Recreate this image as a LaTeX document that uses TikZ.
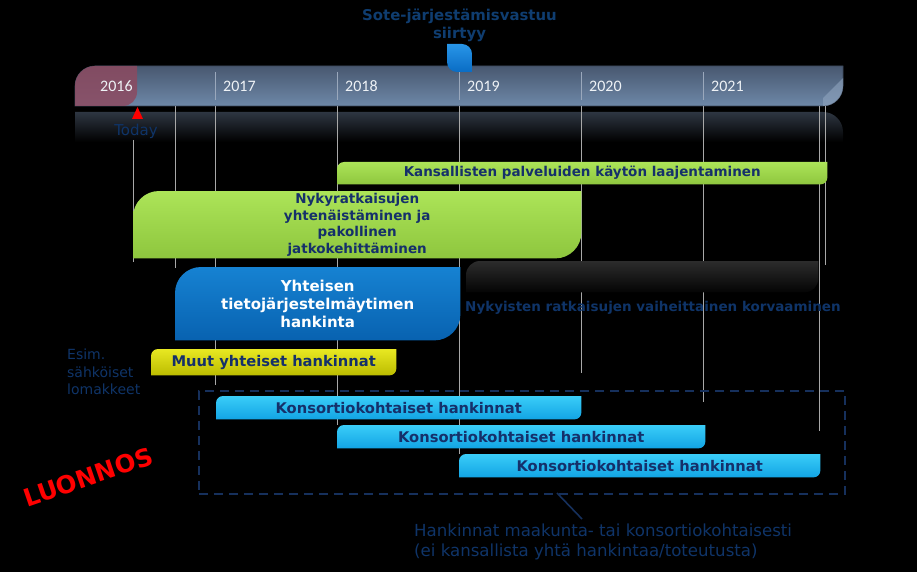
\documentclass[tikz,border=0pt]{standalone}
\usepackage{fontspec}
\setmainfont{DejaVu Sans}
\newfontfamily\yearfont{Carlito}
\usetikzlibrary{calc}
\definecolor{navy}{HTML}{15306A}
\definecolor{navytxt}{HTML}{0F3468}
\definecolor{sotec}{HTML}{0F3D70}
\definecolor{barTop}{HTML}{485870}
\definecolor{barBot}{HTML}{6E88A8}
\definecolor{barEdge}{HTML}{3A4658}
\definecolor{tickc}{HTML}{9AA8BC}
\definecolor{gridc}{HTML}{A8A8A8}
\definecolor{dashc}{HTML}{16305C}
\definecolor{redarea}{HTML}{8C4A60}
\definecolor{reflTop}{HTML}{2E3642}
\definecolor{greenT}{HTML}{ACE458}
\definecolor{greenB}{HTML}{8EC63E}
\definecolor{blueT}{HTML}{1682D2}
\definecolor{blueB}{HTML}{0862B0}
\definecolor{yellowT}{HTML}{E8E822}
\definecolor{yellowB}{HTML}{BCBC00}
\definecolor{cyanT}{HTML}{3ACDF8}
\definecolor{cyanB}{HTML}{12A4E4}
\definecolor{blackT}{HTML}{2C2C2C}
\definecolor{blackB}{HTML}{040404}
\definecolor{markT}{HTML}{2896E8}
\definecolor{markB}{HTML}{0A6CC4}
\definecolor{yearc}{HTML}{EEF2F6}
\definecolor{curlc}{HTML}{8FA4BE}
\pgfdeclarelayer{bgl}
\pgfdeclarelayer{lines}
\pgfdeclarelayer{shapes}
\pgfsetlayers{bgl,lines,shapes,main}
\newcommand\boxfont{\fontsize{13.5}{16.5}\selectfont\bfseries}
\newcommand\boxshape[4]{%
  \begin{pgfonlayer}{shapes}
  \path[top color=#3, bottom color=#4] (#1.south west) -- ([yshift=-#2]#1.north west)
    arc[start angle=180,end angle=90,radius=#2] -- (#1.north east)
    -- ([yshift=#2]#1.south east) arc[start angle=0,end angle=-90,radius=#2] -- cycle;
  \end{pgfonlayer}}
\tikzset{
  barbox/.style={anchor=north west, inner sep=0pt, align=center, text=navy, font=\boxfont},
  yearlbl/.style={anchor=west, inner sep=0pt, text=yearc, font=\yearfont\fontsize{16}{18}\selectfont},
  tickline/.style={draw=tickc, line width=0.8pt},
  gridline/.style={draw=gridc, line width=0.9pt},
  plaintxt/.style={text=navytxt, inner sep=0pt},
}
\begin{document}
\begin{tikzpicture}[x=1pt,y=-1pt]
\begin{pgfonlayer}{bgl}
\fill[black] (0,0) rectangle (917,572);
% timeline bar
\path[top color=barTop,bottom color=barBot,draw=barEdge,line width=0.6pt]
  (75,106) -- (75,86) arc[start angle=180,end angle=90,radius=20pt] -- (843,66)
  -- (843,86) arc[start angle=0,end angle=-90,radius=20pt] -- cycle;
\fill[curlc, fill opacity=0.6] (843,78) -- (843,86) arc[start angle=0,end angle=-90,radius=20pt] -- (823,98) -- cycle;
\fill[redarea, fill opacity=0.85]
  (75,106) -- (75,86) arc[start angle=180,end angle=90,radius=20pt] -- (137,66)
  -- (137,92) arc[start angle=0,end angle=-90,radius=14pt] -- cycle;
% reflection
\path[top color=reflTop, bottom color=black]
  (75,112) -- (823,112) arc[start angle=90,end angle=0,radius=20pt] -- (843,142) -- (75,142) -- cycle;
\foreach \x in {215,337,459,581,703} \draw[tickline] (\x,72) -- (\x,100);
\end{pgfonlayer}
\node[yearlbl] (y2016) at (100,86) {2016};
\node[yearlbl] (y2017) at (223,86) {2017};
\node[yearlbl] (y2018) at (345,86) {2018};
\node[yearlbl] (y2019) at (467,86) {2019};
\node[yearlbl] (y2020) at (589,86) {2020};
\node[yearlbl] (y2021) at (711,86) {2021};
% grid lines
\begin{pgfonlayer}{lines}
\draw[gridline] (133,140) -- (133,262);
\draw[gridline] (175,106) -- (175,268);
\draw[gridline] (215,106) -- (215,385);
\draw[gridline] (337,106) -- (337,425);
\draw[gridline] (459,106) -- (459,454);
\draw[gridline] (581,106) -- (581,373);
\draw[gridline] (703,106) -- (703,402);
\draw[gridline] (819,106) -- (819,431);
\draw[gridline] (825,106) -- (825,265);
\end{pgfonlayer}
% today
\fill[red] (137.5,107) -- (143,119) -- (132,119) -- cycle;
\node[plaintxt, font=\fontsize{15}{18}\selectfont] (today) at (136,131) {Today};
% sote marker
\node[plaintxt, text=sotec, align=center, font=\fontsize{14.9}{17.5}\selectfont\bfseries] (sote) at (459.5,25.5) {Sote-järjestämisvastuu\\siirtyy};
\path[top color=markT, bottom color=markB]
  (447,44) -- (462,44) arc[start angle=90,end angle=0,radius=10pt] -- (472,72)
  -- (457,72) arc[start angle=270,end angle=180,radius=10pt] -- cycle;
% boxes
\node[barbox, minimum width=490pt, minimum height=22pt] (kans) at (337,162) {Kansallisten palveluiden käytön laajentaminen};
\boxshape{kans}{7pt}{greenT}{greenB}
\node[barbox, minimum width=448pt, minimum height=67pt] (nyky) at (133,191) {Nykyratkaisujen\\yhtenäistäminen ja\\pakollinen\\jatkokehittäminen};
\boxshape{nyky}{26pt}{greenT}{greenB}
\node[barbox, text=white, font=\fontsize{15}{18}\selectfont\bfseries, minimum width=285pt, minimum height=73pt] (ydin) at (175,267) {Yhteisen\\tietojärjestelmäytimen\\hankinta};
\boxshape{ydin}{26pt}{blueT}{blueB}
\node[barbox, minimum width=352pt, minimum height=31pt] (korv) at (466,261) {};
\boxshape{korv}{14pt}{blackT}{blackB}
\node[plaintxt, anchor=west, font=\boxfont] (korvtxt) at (465,308) {Nykyisten ratkaisujen vaiheittainen korvaaminen};
\node[barbox, font=\fontsize{14.7}{17}\selectfont\bfseries, minimum width=245pt, minimum height=26pt] (muut) at (151,349) {Muut yhteiset hankinnat};
\boxshape{muut}{7pt}{yellowT}{yellowB}
\node[plaintxt, anchor=west, align=left, font=\fontsize{14}{17.5}\selectfont] (esim) at (67,372) {Esim.\\sähköiset\\lomakkeet};
% consortium group
\node[anchor=north west, inner sep=0pt, minimum width=646pt, minimum height=103pt, draw=dashc, line width=1.6pt, dash pattern=on 9pt off 6pt] (grp) at (198,390) {};
\node[barbox, font=\fontsize{14.7}{17}\selectfont\bfseries, minimum width=365pt, minimum height=23pt] (kon1) at (216,396) {Konsortiokohtaiset hankinnat};
\boxshape{kon1}{7pt}{cyanT}{cyanB}
\node[barbox, font=\fontsize{14.7}{17}\selectfont\bfseries, minimum width=368pt, minimum height=23pt] (kon2) at (337,425) {Konsortiokohtaiset hankinnat};
\boxshape{kon2}{7pt}{cyanT}{cyanB}
\node[barbox, font=\fontsize{14.7}{17}\selectfont\bfseries, minimum width=361pt, minimum height=23pt] (kon3) at (459,454) {Konsortiokohtaiset hankinnat};
\boxshape{kon3}{7pt}{cyanT}{cyanB}
% note
\node[plaintxt, anchor=west, align=left, font=\fontsize{16.6}{19.5}\selectfont] (note) at (414,542) {Hankinnat maakunta- tai konsortiokohtaisesti\\(ei kansallista yhtä hankintaa/toteutusta)};
\coordinate (leadA) at (557,493);
\coordinate (leadB) at (582,519);
\draw[dashc, line width=1.6pt] (leadA) -- (leadB);
% draft
\node[text=red, rotate=19, inner sep=0pt, font=\fontsize{24.5}{27}\selectfont\bfseries] (draft) at (88,477) {LUONNOS};
\end{tikzpicture}
\end{document}
